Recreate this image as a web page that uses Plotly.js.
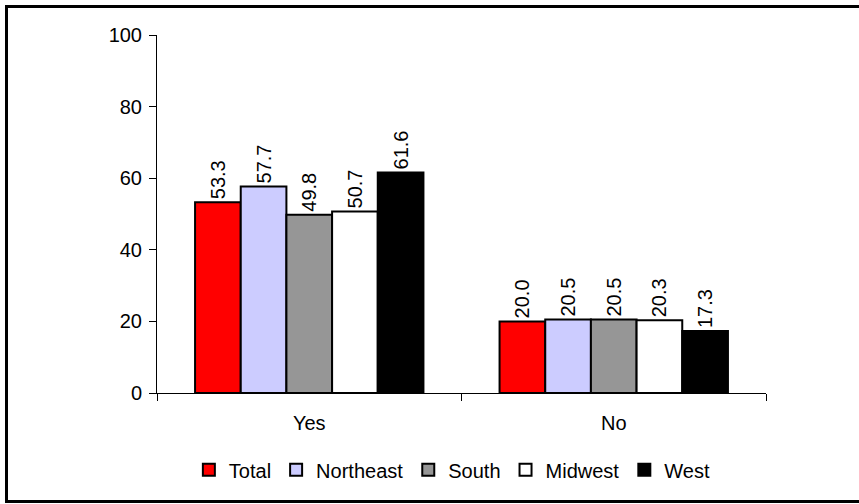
<!DOCTYPE html>
<html>
<head>
<meta charset="utf-8">
<script src="https://cdn.plot.ly/plotly-3.0.1.min.js"></script>
<style>
html,body{margin:0;padding:0;background:#fff;}
#wrap{position:relative;width:859px;height:504px;overflow:hidden;}
#frame{position:absolute;left:5px;top:5px;width:870px;height:492px;border:3px solid #000;box-sizing:content-box;pointer-events:none;z-index:5;}
#chart{position:absolute;left:0;top:0;width:859px;height:504px;}
</style>
</head>
<body>
<div id="wrap">
<div id="chart"></div>
<div id="frame"></div>
</div>
<script>
const categories = ["Yes", "No"];
const seriesNames = ["Total", "Northeast", "South", "Midwest", "West"];
const total = [53.3, 20.0];
const northeast = [57.7, 20.5];
const south = [49.8, 20.5];
const midwest = [50.7, 20.3];
const west = [61.6, 17.3];
const yTicks = [0, 20, 40, 60, 80, 100];

const values = [total, northeast, south, midwest, west];
const colors = ["#ff0000", "#ccccff", "#969696", "#ffffff", "#000000"];
const FONT = "Liberation Sans, Arial, sans-serif";

const traces = seriesNames.map((name, i) => ({
  type: "bar",
  name: name,
  x: categories,
  y: values[i],
  text: values[i].map(v => v.toFixed(1)),
  textposition: "outside",
  textangle: -90,
  constraintext: "none",
  cliponaxis: false,
  textfont: {family: FONT, size: 20, color: "#000"},
  marker: {color: colors[i], line: {color: "#000", width: 2}}
}));

const layout = {
  width: 859,
  height: 504,
  margin: {l: 157, r: 93, t: 35, b: 111},
  paper_bgcolor: "#fff",
  plot_bgcolor: "#fff",
  font: {family: FONT, size: 20, color: "#000"},
  barmode: "group",
  bargap: 0.25,
  bargroupgap: 0,
  showlegend: true,
  legend: {
    orientation: "h",
    x: 0.485, xanchor: "center",
    y: -0.16, yanchor: "top",
    font: {family: FONT, size: 20, color: "#000"},
    itemwidth: 30,
    traceorder: "normal"
  },
  xaxis: {
    type: "category",
    showline: true, linecolor: "#000", linewidth: 1,
    ticks: "outside", tickson: "boundaries", ticklen: 7, tickcolor: "#000",
    ticklabelstandoff: 12,
    showgrid: false, zeroline: false,
    tickfont: {family: FONT, size: 20}
  },
  yaxis: {
    range: [0, 100],
    tickvals: yTicks,
    ticktext: yTicks.map(String),
    showline: true, linecolor: "#000", linewidth: 1,
    ticks: "outside", ticklen: 7, tickcolor: "#000",
    ticklabelstandoff: 3,
    showgrid: false, zeroline: false,
    tickfont: {family: FONT, size: 20}
  }
};

Plotly.newPlot("chart", traces, layout, {displayModeBar: false, staticPlot: true});
</script>
</body>
</html>
